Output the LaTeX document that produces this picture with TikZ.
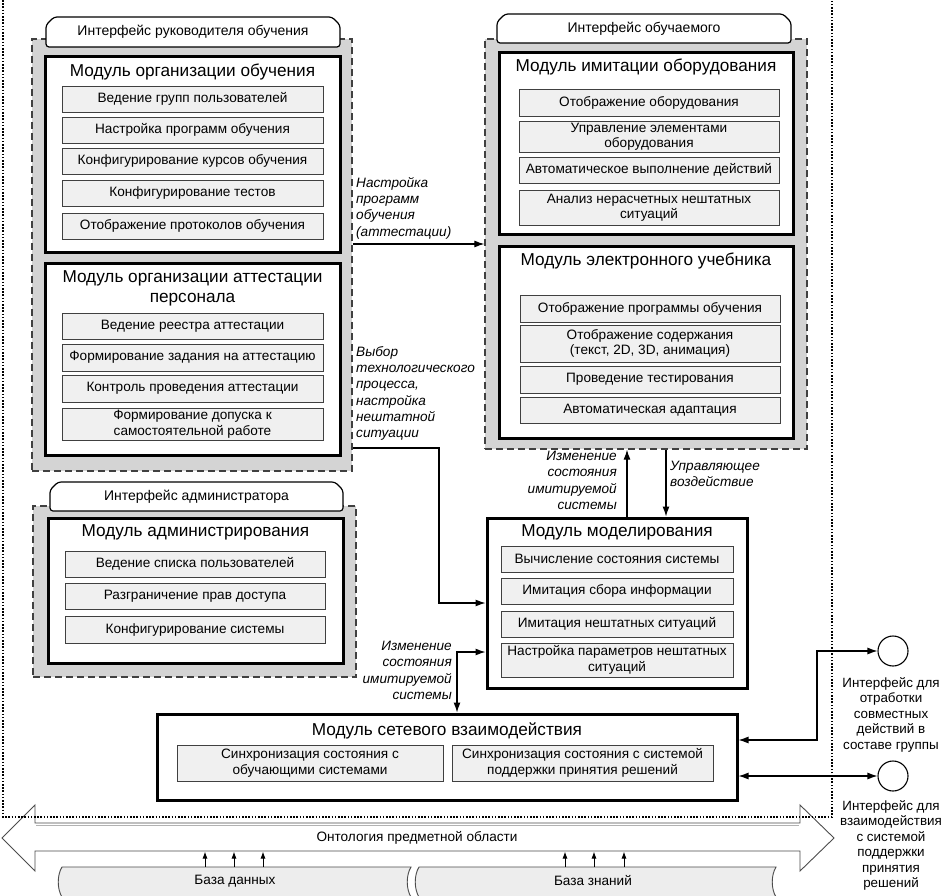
\documentclass[tikz,border=0pt]{standalone}
\usepackage{fontspec}
\setmainfont{Liberation Sans}
\usetikzlibrary{arrows.meta,shadows,fit,calc}
\newcommand\fItem{\fontsize{13.6}{15.5}\selectfont}
\newcommand\fTitle{\fontsize{17.2}{20}\selectfont}
\newcommand\fTab{\fontsize{14}{16}\selectfont}
\newcommand\fLab{\fontsize{13.6}{16.3}\selectfont\itshape}
\newcommand\fCirc{\fontsize{13.4}{15.5}\selectfont}
% box node given by its corners: name, x1, y1, x2, y2, style, text
\newcommand\cbox[7]{\node[#6, minimum width={(#4)-(#2)}, minimum height={(#5)-(#3)}] (#1) at ({((#2)+(#4))/2},{((#3)+(#5))/2}) {#7};}
\begin{document}
\begin{tikzpicture}[x=1pt,y=-1pt,
  grp/.style={draw=black!75, fill=black!17, dash pattern=on 7pt off 4pt, line width=1.3pt, inner sep=0pt},
  tabline/.style={draw=black, fill=white, line width=1.2pt, rounded corners=3pt},
  tabtext/.style={font=\fTab, inner sep=0pt},
  modbox/.style={draw=black, fill=white, line width=3pt, inner sep=0pt},
  modtitle/.style={font=\fTitle, align=center, inner sep=0pt},
  item/.style={draw=black!75, fill=black!6, line width=0.9pt, inner sep=0pt, align=center, font=\fItem,
    drop shadow={shadow xshift=1.3pt, shadow yshift=-1.3pt, fill=black!55, opacity=1}},
  lab/.style={font=\fLab, inner sep=0pt},
  circlab/.style={font=\fCirc, align=center, inner sep=0pt, anchor=north},
  conn/.style={line width=1.1pt, draw=black},
  arr/.style={conn, -{Latex[length=10pt,width=7pt]}},
  barr/.style={conn, {Latex[length=10pt,width=7pt]}-{Latex[length=10pt,width=7pt]}},
  arrS/.style={line width=1pt, -{Latex[length=7pt,width=5pt]}},
  iface/.style={circle, draw=black, line width=1.1pt, fill=white, minimum size=30pt, inner sep=0pt},
  dbshape/.style={draw=black!70, fill=black!7, line width=0.9pt}
]
\useasboundingbox (0,0) rectangle (945,896);
\clip (0,0) rectangle (945,896);
\fill[white] (0,0) rectangle (945,896);

% ---------- Group 1: trainer interface ----------
\cbox{g1}{32}{39}{352}{471}{grp}{}
\draw[tabline] (46,47) -- (46,25) -- (54,17) -- (332,17) -- (340,25) -- (340,47) -- cycle;
\node[tabtext] (t1) at (193,32) {Интерфейс руководителя обучения};

\cbox{m1}{45}{57}{340}{252}{modbox}{}
\node[modtitle] (m1t) at (192.5,72) {Модуль организации обучения};
\cbox{i11}{62}{86}{323}{112}{item}{Ведение групп пользователей}
\cbox{i12}{62}{117}{323}{143}{item}{Настройка программ обучения}
\cbox{i13}{62}{148}{323}{174}{item}{Конфигурирование курсов обучения}
\cbox{i14}{62}{180}{323}{206}{item}{Конфигурирование тестов}
\cbox{i15}{62}{213}{323}{239}{item}{Отображение протоколов обучения}

\cbox{m2}{45}{263}{340}{455}{modbox}{}
\node[modtitle] (m2t) at (192.5,288) {Модуль организации аттестации\\персонала};
\cbox{i21}{62}{313}{323}{339}{item}{Ведение реестра аттестации}
\cbox{i22}{62}{344}{323}{371}{item}{Формирование задания на аттестацию}
\cbox{i23}{62}{375}{323}{402}{item}{Контроль проведения аттестации}
\cbox{i24}{62}{408}{323}{440}{item}{Формирование допуска к\\самостоятельной работе}

% ---------- Group 2: trainee interface ----------
\cbox{g2}{485}{39}{807}{449}{grp}{}
\draw[tabline] (497,43) -- (497,22) -- (505,14) -- (783,14) -- (791,22) -- (791,43) -- cycle;
\node[tabtext] (t2) at (644,29) {Интерфейс обучаемого};

\cbox{m3}{499}{53}{793}{235}{modbox}{}
\node[modtitle] (m3t) at (646,67) {Модуль имитации оборудования};
\cbox{i31}{519}{89}{779}{116}{item}{Отображение оборудования}
\cbox{i32}{519}{121}{779}{152}{item}{Управление элементами\\оборудования}
\cbox{i33}{519}{157}{779}{183}{item}{Автоматическое выполнение действий}
\cbox{i34}{519}{190}{779}{225}{item}{Анализ нерасчетных нештатных\\ситуаций}

\cbox{m4}{499}{246}{793}{438}{modbox}{}
\node[modtitle] (m4t) at (646,261) {Модуль электронного учебника};
\cbox{i41}{520}{295}{780}{322}{item}{Отображение программы обучения}
\cbox{i42}{520}{325}{780}{362}{item}{Отображение содержания\\(текст, 2D, 3D, анимация)}
\cbox{i43}{520}{366}{780}{393}{item}{Проведение тестирования}
\cbox{i44}{520}{397}{780}{423}{item}{Автоматическая адаптация}

% ---------- Group 3: administrator interface ----------
\cbox{g3}{33}{506}{356}{677}{grp}{}
\draw[tabline] (50,511) -- (50,490) -- (58,482) -- (335,482) -- (343,490) -- (343,511) -- cycle;
\node[tabtext] (t3) at (196.5,496.5) {Интерфейс администратора};

\cbox{m5}{48}{518}{343}{663}{modbox}{}
\node[modtitle] (m5t) at (195.5,532) {Модуль администрирования};
\cbox{i51}{65}{551}{325}{577}{item}{Ведение списка пользователей}
\cbox{i52}{65}{583}{325}{609}{item}{Разграничение прав доступа}
\cbox{i53}{65}{616}{325}{643}{item}{Конфигурирование системы}

% ---------- Modelling module ----------
\cbox{m6}{487}{518}{747}{688}{modbox}{}
\node[modtitle] (m6t) at (617,532) {Модуль моделирования};
\cbox{i61}{501}{546}{733}{572}{item}{Вычисление состояния системы}
\cbox{i62}{501}{578}{733}{604}{item}{Имитация сбора информации}
\cbox{i63}{501}{611}{733}{637}{item}{Имитация нештатных ситуаций}
\cbox{i64}{501}{643}{733}{677}{item}{Настройка параметров нештатных\\ситуаций}

% ---------- Network module ----------
\cbox{net}{157}{714}{737}{800}{modbox}{}
\node[modtitle] (nett) at (447,731) {Модуль сетевого взаимодействия};
\cbox{i71}{177}{745}{443}{781}{item}{Синхронизация состояния с\\обучающими системами}
\cbox{i72}{452}{745}{713}{781}{item}{Синхронизация состояния с системой\\поддержки принятия решений}

% ---------- external interfaces ----------
\node[iface] (c1) at (893,651) {};
\node[iface] (c2) at (893,776) {};
\node[circlab] (c1l) at (891,677) {Интерфейс для\\отработки\\совместных\\действий в\\составе группы};
\node[circlab] (c2l) at (891,800) {Интерфейс для\\взаимодействия\\с системой\\поддержки\\принятия\\решений};

% ---------- connectors ----------
\draw[arr] (g1.east |- g2.west) -- (g2.west);
\node[lab, anchor=north west, align=left] (la) at (356,177) {Настройка\\программ\\обучения\\(аттестации)};

\coordinate (bk) at (439,448);
\coordinate (m6b) at (487,603);
\draw[arr] (g1.east |- bk) -- (bk) |- (m6.west |- m6b);
\node[lab, anchor=north west, align=left] (lb) at (356,346) {Выбор\\технологического\\процесса,\\настройка\\нештатной\\ситуации};

\coordinate (cx) at (627,0);
\draw[arr] (m6.north -| cx) -- (g2.south -| cx);
\node[lab, anchor=north east, align=right] (lc) at (617,451) {Изменение\\состояния\\имитируемой\\системы};

\coordinate (dx) at (666,0);
\draw[arr] (g2.south -| dx) -- (m6.north -| dx);
\node[lab, anchor=north west, align=left] (ld) at (670,461) {Управляющее\\воздействие};

\coordinate (ek) at (457,652);
\draw[barr] (m6.west |- ek) -- (ek) -- (net.north -| ek);
\node[lab, anchor=north east, align=right] (le) at (452,641) {Изменение\\состояния\\имитируемой\\системы};

\coordinate (fk) at (817,740);
\draw[barr] (net.east |- fk) -- (fk) |- (c1.west);
\draw[barr] (net.east |- c2.west) -- (c2.west);

% ---------- ontology arrow and bases ----------
\draw[draw=black!70, fill=white, line width=0.9pt] (2,838) -- (35,805) -- (35,823) -- (800,823) -- (800,805) -- (834,838) -- (800,871) -- (800,851) -- (35,851) -- (35,871) -- cycle;
\draw[black!30, line width=1.2pt] (36,825.5) -- (799,825.5);
\node[font=\fItem, inner sep=0pt] (onto) at (417,838) {Онтология предметной области};

\draw[dbshape] (62,867) -- (411,867) .. controls (406,875) and (406,889) .. (411,897) -- (62,897) .. controls (57,889) and (57,875) .. (62,867) -- cycle;
\draw[dbshape] (419,867) -- (776,867) .. controls (771,875) and (771,889) .. (776,897) -- (419,897) .. controls (414,889) and (414,875) .. (419,867) -- cycle;
\node[font=\fItem, inner sep=0pt] (db1) at (235,881) {База данных};
\node[font=\fItem, inner sep=0pt] (db2) at (593,881) {База знаний};
\foreach \x in {205,234,263,565,594,624} \draw[arrS] (\x,867) -- (\x,851.5);

% ---------- outer dotted frame ----------
\draw[line width=1.6pt, dash pattern=on 1.6pt off 1.6pt] (3,0) -- (3,817) -- (832,817) -- (832,0);
\end{tikzpicture}
\end{document}
